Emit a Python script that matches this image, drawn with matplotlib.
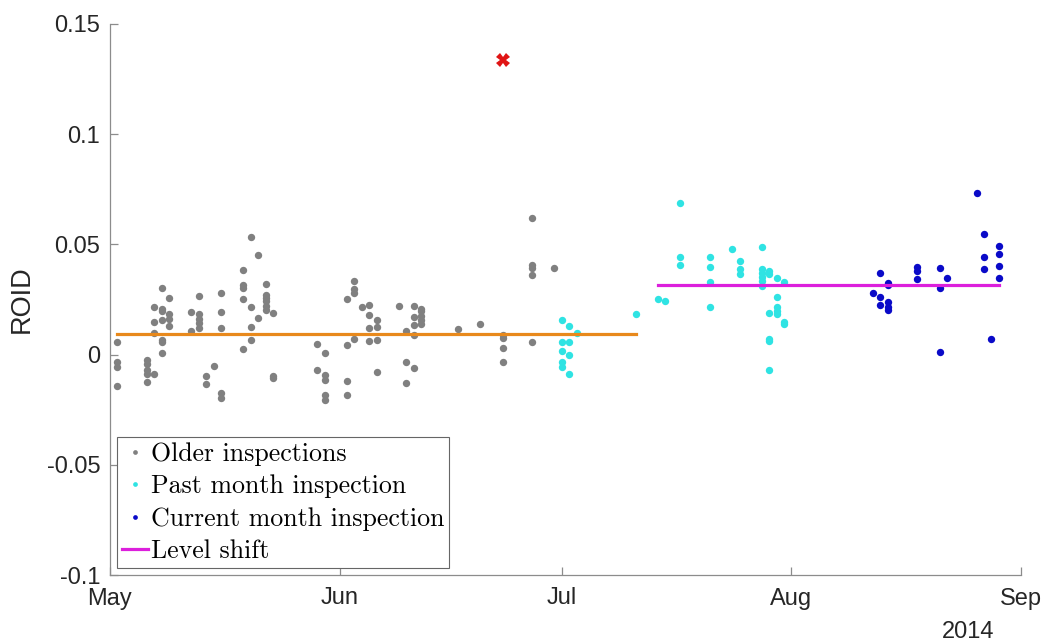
import pandas as pd
import matplotlib
matplotlib.use("Agg")
import matplotlib.pyplot as plt
from matplotlib.lines import Line2D

# values read per inspection day (date -> ROID values)
older = {
    "2014-05-02": [0.0059, -0.0035, -0.0057, -0.0143],
    "2014-05-06": [-0.0024, -0.0041, -0.0068, -0.0087, -0.0125],
    "2014-05-07": [0.0215, 0.0148, 0.0098, -0.0087],
    "2014-05-08": [0.0304, 0.0206, 0.0196, 0.0158, 0.0068, 0.0056, 0.0005],
    "2014-05-09": [0.0259, 0.0182, 0.0161, 0.0128],
    "2014-05-12": [0.0194, 0.0107],
    "2014-05-13": [0.0265, 0.0182, 0.0161, 0.0143, 0.0119],
    "2014-05-14": [-0.0096, -0.0134],
    "2014-05-15": [-0.0053],
    "2014-05-16": [0.0279, 0.0193, 0.0121, -0.0173, -0.0199],
    "2014-05-19": [0.0384, 0.0316, 0.0303, 0.0253, 0.0026],
    "2014-05-20": [0.0532, 0.0218, 0.0123, 0.0065],
    "2014-05-21": [0.0453, 0.0168],
    "2014-05-22": [0.0319, 0.0271, 0.0256, 0.0241, 0.0221, 0.0203],
    "2014-05-23": [0.0188, -0.0095, -0.0105],
    "2014-05-29": [0.0050, -0.0068],
    "2014-05-30": [0.0008, -0.0093, -0.0117, -0.0185, -0.0208],
    "2014-06-02": [0.0251, 0.0042, -0.0121, -0.0184],
    "2014-06-03": [0.0336, 0.0297, 0.0279, 0.0072],
    "2014-06-04": [0.0218],
    "2014-06-05": [0.0224, 0.0181, 0.0119, 0.0060],
    "2014-06-06": [0.0159, 0.0125, 0.0065, -0.0078],
    "2014-06-09": [0.0220],
    "2014-06-10": [0.0105, -0.0033, -0.0130],
    "2014-06-11": [0.0220, 0.0170, 0.0134, 0.0087, -0.0063],
    "2014-06-12": [0.0208, 0.0196, 0.0173, 0.0155, 0.0140],
    "2014-06-17": [0.0114],
    "2014-06-20": [0.0139],
    "2014-06-23": [0.0087, 0.0075, 0.0030, -0.0035],
    "2014-06-27": [0.0620, 0.0406, 0.0394, 0.0361, 0.0059],
    "2014-06-30": [0.0392],
}

past_month = {
    "2014-07-01": [0.0158, 0.0057, 0.0018, -0.0035, -0.0057],
    "2014-07-02": [0.0131, 0.0057, -0.0003, -0.0087],
    "2014-07-03": [0.0098],
    "2014-07-11": [0.0184],
    "2014-07-14": [0.0253],
    "2014-07-15": [0.0244],
    "2014-07-17": [0.0690, 0.0444, 0.0406],
    "2014-07-21": [0.0444, 0.0399, 0.0331, 0.0218],
    "2014-07-24": [0.0477],
    "2014-07-25": [0.0423, 0.0387, 0.0364],
    "2014-07-28": [0.0486, 0.0388, 0.0372, 0.0354, 0.0336, 0.0310],
    "2014-07-29": [0.0381, 0.0366, 0.0191, 0.0071, 0.0060, -0.0069],
    "2014-07-30": [0.0349, 0.0261, 0.0214, 0.0199, 0.0184],
    "2014-07-31": [0.0331, 0.0150, 0.0139],
}

current_month = {
    "2014-08-12": [0.0281],
    "2014-08-13": [0.0370, 0.0261, 0.0224],
    "2014-08-14": [0.0327, 0.0316, 0.0238, 0.0218, 0.0202],
    "2014-08-18": [0.0396, 0.0379, 0.0345],
    "2014-08-21": [0.0394, 0.0304, 0.0012],
    "2014-08-22": [0.0346],
    "2014-08-26": [0.0735],
    "2014-08-27": [0.0547, 0.0443, 0.0387],
    "2014-08-28": [0.0072],
    "2014-08-29": [0.0491, 0.0458, 0.0401, 0.0346],
}

outlier_date = "2014-06-23"
outlier_value = 0.1337

level_before_dates = ["2014-05-02", "2014-07-11"]
level_before = 0.0095
level_after_dates = ["2014-07-14", "2014-08-29"]
level_after = 0.0318

month_ticks = ["2014-05-01", "2014-06-01", "2014-07-01", "2014-08-01", "2014-09-01"]
month_labels = ["May", "Jun", "Jul", "Aug", "Sep"]
y_ticks = [-0.1, -0.05, 0, 0.05, 0.1, 0.15]
y_tick_labels = ["-0.1", "-0.05", "0", "0.05", "0.1", "0.15"]


def flatten(d):
    xs, ys = [], []
    for day, vals in d.items():
        xs += [pd.Timestamp(day)] * len(vals)
        ys += vals
    return xs, ys


fig = plt.figure(figsize=(10.48, 6.43), dpi=100)
ax = fig.add_axes([110 / 1048, 68 / 643, 911 / 1048, 551 / 643])

ms = 5.3
for d, col in [(older, "#808080"), (past_month, "#2fe3e3"), (current_month, "#0a0ac8")]:
    xs, ys = flatten(d)
    ax.plot(xs, ys, "o", color=col, markersize=ms, markeredgewidth=0, zorder=2)

ax.plot(pd.to_datetime(level_before_dates), [level_before] * 2, color="#e8891c", lw=2.3, zorder=3)
ax.plot(pd.to_datetime(level_after_dates), [level_after] * 2, color="#dc1fdc", lw=2.3, zorder=3)
ax.plot([pd.Timestamp(outlier_date)], [outlier_value], "X", color="#e01414",
        markersize=9.5, markeredgewidth=0, zorder=4)

ax.set_xlim(pd.Timestamp(month_ticks[0]), pd.Timestamp(month_ticks[-1]))
ax.set_ylim(-0.1, 0.15)
ax.set_xticks(pd.to_datetime(month_ticks))
ax.set_xticklabels(month_labels)
ax.set_yticks(y_ticks)
ax.set_yticklabels(y_tick_labels)

for s in ["top", "right"]:
    ax.spines[s].set_visible(False)
for s in ["left", "bottom"]:
    ax.spines[s].set_color("#8c8c8c")
    ax.spines[s].set_linewidth(0.9)

ax.tick_params(axis="both", direction="in", length=6, width=0.9, color="#8c8c8c",
               labelsize=17, labelcolor="#262626")
ax.tick_params(axis="y", pad=7)
ax.tick_params(axis="x", pad=9)
for lab in ax.get_xticklabels() + ax.get_yticklabels():
    lab.set_fontfamily("Liberation Sans")

ax.set_ylabel("ROID", fontsize=19.5, color="#262626", fontfamily="Liberation Sans",
              va="center")
ax.yaxis.set_label_coords(-0.0966, 0.5)

fig.text(968 / 1048, 1 - 632 / 643, "2014", ha="center", va="center",
         fontsize=17, color="#262626", fontfamily="Liberation Sans")

handles = [
    Line2D([], [], ls="none", marker="o", color="#808080", markersize=3.4, markeredgewidth=0),
    Line2D([], [], ls="none", marker="o", color="#2fe3e3", markersize=3.4, markeredgewidth=0),
    Line2D([], [], ls="none", marker="o", color="#0a0ac8", markersize=3.4, markeredgewidth=0),
    Line2D([], [], color="#dc1fdc", lw=2.3),
]
labels = ["Older inspections", "Past month inspection", "Current month inspection", "Level shift"]
leg = ax.legend(handles, labels, loc="lower left", bbox_to_anchor=(0.0077, 0.0127),
                borderaxespad=0, fancybox=False, framealpha=1, edgecolor="#666666",
                prop={"family": "cmr10", "size": 18.6}, handlelength=1.0, handletextpad=0.1,
                labelspacing=0.33, borderpad=0.2)
leg.get_frame().set_linewidth(0.8)

fig.savefig("out.png", dpi=100)
